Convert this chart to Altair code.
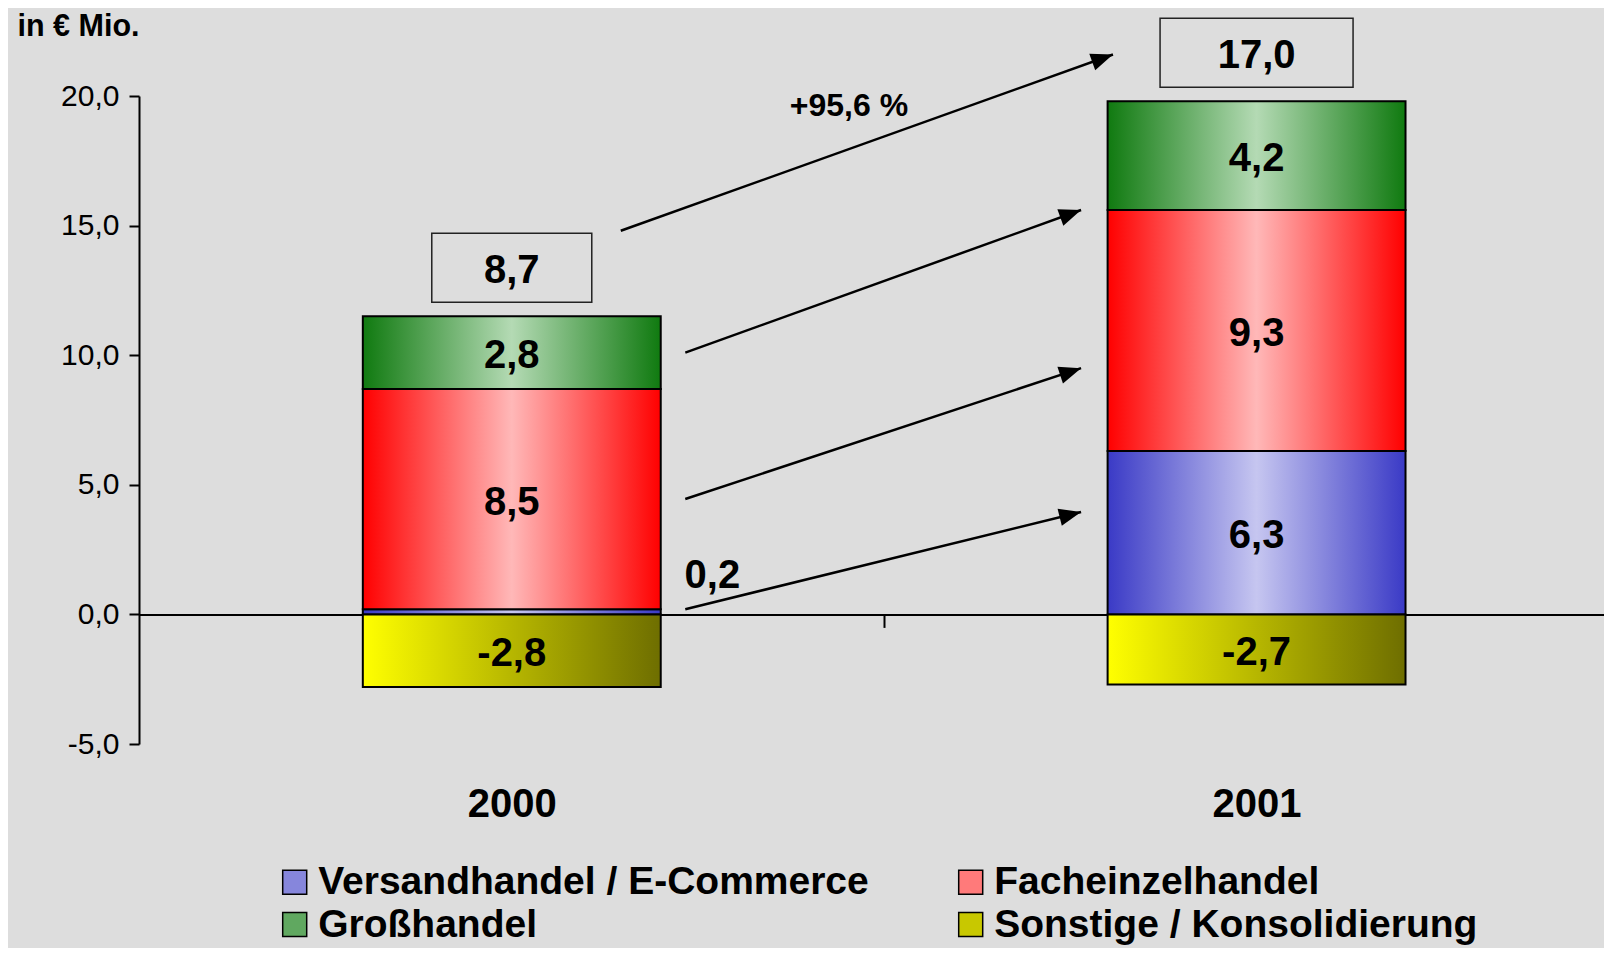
import math
import altair as alt
import pandas as pd

# ---------------- data ----------------
years = ["2000", "2001"]
series = ["Versandhandel / E-Commerce", "Facheinzelhandel", "Großhandel", "Sonstige / Konsolidierung"]
values_2000 = [0.2, 8.5, 2.8, -2.8]
values_2001 = [6.3, 9.3, 4.2, -2.7]
totals = [8.7, 17.0]
growth_label = ["+95,6 %"]
y_ticks = [-5, 0, 5, 10, 15, 20]

# arrow anchors in € Mio. (segment arrows, 2000 -> 2001)
arrow_series = ["Versandhandel / E-Commerce", "Facheinzelhandel", "Großhandel"]
arrow_from = [0.2, 4.45, 10.1]
arrow_to = [3.95, 9.5, 15.6]
# arrow for the totals
total_arrow_from = [14.8]
total_arrow_to = [21.6]

# ---------------- layout / style ----------------
W, H = 1465, 648
PAD = {"left": 131, "top": 88, "right": 0, "bottom": 204}
Y_DOMAIN = [-5, 20]
P_INNER, P_OUTER, ALIGN = 0.6, 0.2835, 0.53
STEP = W / (len(years) - P_INNER + 2 * P_OUTER)
PPU = H / (Y_DOMAIN[1] - Y_DOMAIN[0])
FONT = "Liberation Sans"

SEG_START_OFF, SEG_END_OFF = 173.5, -175.5
TOT_START_OFF, TOT_END_OFF = 109.0, -143.6


def fmt(v):
    return f"{v:.1f}".replace(".", ",")


rows = []
for yr, vals in zip(years, [values_2000, values_2001]):
    pos, neg = 0.0, 0.0
    for s, v in zip(series, vals):
        if v >= 0:
            y0, y1 = pos, pos + v
            pos += v
        else:
            y0, y1 = neg, neg + v
            neg += v
        rows.append(dict(year=yr, series=s, value=v, y0=y0, y1=y1,
                         mid=(y0 + y1) / 2, label=fmt(v), inside=abs(v) >= 1))
df = pd.DataFrame(rows)
tops = df[df.value > 0].groupby("year")["y1"].max()
tot_df = pd.DataFrame(dict(year=years, total=totals,
                           top=[tops[y] for y in years],
                           label=[fmt(t) for t in totals]))


def angle_of(v_from, v_to, start_off, end_off):
    dx = STEP + end_off - start_off
    dy = (v_to - v_from) * PPU
    return (360 - math.degrees(math.atan2(dy, dx))) % 360


arr_df = pd.DataFrame(dict(series=arrow_series, x_from=years[0], x_to=years[1],
                           v_from=arrow_from, v_to=arrow_to))
arr_df["angle"] = [angle_of(a, b, SEG_START_OFF, SEG_END_OFF) for a, b in zip(arrow_from, arrow_to)]
tot_arr_df = pd.DataFrame(dict(x_from=[years[0]], x_to=[years[1]],
                               v_from=total_arrow_from, v_to=total_arrow_to,
                               label=growth_label))
tot_arr_df["angle"] = [angle_of(a, b, TOT_START_OFF, TOT_END_OFF)
                       for a, b in zip(total_arrow_from, total_arrow_to)]

# ---------------- scales / axes ----------------
xscale = alt.Scale(domain=years, paddingInner=P_INNER, paddingOuter=P_OUTER, align=ALIGN)
yscale = alt.Scale(domain=Y_DOMAIN, nice=False, zero=False)

xaxis = alt.Axis(title=None, labelAngle=0, labelFontSize=40, labelFontWeight="bold",
                 labelColor="black", offset=-(0 - Y_DOMAIN[0]) * PPU,
                 domainColor="black", domainWidth=2, tickColor="black", tickWidth=2,
                 tickSize=13, tickOffset=STEP / 2, labelOffset=-STEP / 2,
                 labelPadding=157, grid=False)
yaxis = alt.Axis(values=y_ticks,
                 labelExpr="replace(replace(format(datum.value, '.1f'), '.', ','), '\u2212', '-')",
                 labelFontSize=30, labelColor="black", labelPadding=10, tickSize=10,
                 tickWidth=2, tickColor="black", domainColor="black", domainWidth=2,
                 grid=False, title="in € Mio.", titleAngle=0, titleAlign="left",
                 titleBaseline="alphabetic", titleX=-122, titleY=-60.5, titleFontSize=30.5,
                 titleFontWeight="bold", titleColor="black")


def X(field):
    return alt.X(f"{field}:N", scale=xscale, axis=xaxis)


def Y(field):
    return alt.Y(f"{field}:Q", scale=yscale, axis=yaxis)


def hgrad(edge, center):
    return alt.Gradient(gradient="linear", x1=0, x2=1, y1=0, y2=0,
                        stops=[alt.GradientStop(color=edge, offset=0),
                               alt.GradientStop(color=center, offset=0.5),
                               alt.GradientStop(color=edge, offset=1)])


grads = [
    hgrad("#3a3ac6", "#c6c6f0"),
    hgrad("#ff0000", "#ffb8b8"),
    hgrad("#107a10", "#b4dab4"),
    alt.Gradient(gradient="linear", x1=0, x2=1, y1=0, y2=0,
                 stops=[alt.GradientStop(color="#ffff00", offset=0),
                        alt.GradientStop(color="#6e6e00", offset=1)]),
]
legend_colors = ["#8686dc", "#ff7a7a", "#60a860", "#c8c800"]
# legend fills column by column: list entries so that rows read
# "Versandhandel / E-Commerce | Facheinzelhandel" and "Großhandel | Sonstige / Konsolidierung"
legend_order = [0, 2, 1, 3]
legend_domain = [series[i] for i in legend_order]
legend_range = [legend_colors[i] for i in legend_order]

base = alt.Chart(df)

# solid bars underneath: they carry the legend
legend_bars = base.mark_bar().encode(
    x=X("year"), y=Y("y0"), y2="y1:Q",
    color=alt.Color("series:N", sort=legend_domain,
                    scale=alt.Scale(domain=legend_domain, range=legend_range),
                    legend=alt.Legend(title=None, orient="none", legendX=136.2, legendY=766.4,
                                      columns=2, symbolType="square", symbolSize=576,
                                      symbolStrokeColor="black", symbolStrokeWidth=1.5,
                                      labelFontSize=39, labelFontWeight="bold",
                                      labelColor="black", labelLimit=2000, labelOffset=4,
                                      rowPadding=2.7, columnPadding=82, padding=0)),
)

bar_layers = [
    base.transform_filter(alt.datum.series == s)
    .mark_bar(fill=g, stroke="black", strokeWidth=2)
    .encode(x=X("year"), y=Y("y0"), y2="y1:Q")
    for s, g in zip(series, grads)
]

inside_labels = base.transform_filter(alt.datum.inside).mark_text(
    fontSize=40, fontWeight="bold", color="black", baseline="middle", dy=3.5
).encode(x=X("year"), y=Y("mid"), text="label:N")

small_labels = base.transform_filter("!datum.inside").mark_text(
    fontSize=40, fontWeight="bold", color="black", baseline="middle", align="left",
    dx=172.8, dy=-33
).encode(x=X("year"), y=Y("y1"), text="label:N")

tot_base = alt.Chart(tot_df)
box_widths = {"2000": 160, "2001": 193}
boxes = [
    tot_base.transform_filter(alt.datum.year == yr).mark_bar(
        width=w, fill="transparent", stroke="#222222", strokeWidth=1.5,
        yOffset=-14, y2Offset=-83
    ).encode(x=X("year"), y=Y("top"), y2="top:Q")
    for yr, w in box_widths.items()
]
tot_text = tot_base.mark_text(fontSize=40, fontWeight="bold", color="black",
                              baseline="middle", dy=-45).encode(
    x=X("year"), y=Y("top"), text="label:N")

ARROW_SHAPE = "M0,0L-2,-0.8L-2,0.8Z"
arr_base = alt.Chart(arr_df)
seg_lines = arr_base.mark_rule(color="black", strokeWidth=2.5,
                               xOffset=SEG_START_OFF, x2Offset=SEG_END_OFF).encode(
    x=X("x_from"), x2="x_to:N", y=Y("v_from"), y2="v_to:Q")
seg_heads = arr_base.mark_point(shape=ARROW_SHAPE, filled=True, color="black", opacity=1,
                                size=484, strokeWidth=0, xOffset=SEG_END_OFF).encode(
    x=X("x_to"), y=Y("v_to"), angle=alt.Angle("angle:Q", scale=None))

tarr_base = alt.Chart(tot_arr_df)
tot_line = tarr_base.mark_rule(color="black", strokeWidth=2.5,
                               xOffset=TOT_START_OFF, x2Offset=TOT_END_OFF).encode(
    x=X("x_from"), x2="x_to:N", y=Y("v_from"), y2="v_to:Q")
tot_head = tarr_base.mark_point(shape=ARROW_SHAPE, filled=True, color="black", opacity=1,
                                size=484, strokeWidth=0, xOffset=TOT_END_OFF).encode(
    x=X("x_to"), y=Y("v_to"), angle=alt.Angle("angle:Q", scale=None))
growth = tarr_base.mark_text(fontSize=32, fontWeight="bold", color="black", align="left",
                             baseline="middle", dx=278, dy=-125).encode(
    x=X("x_from"), y=Y("v_from"), text="label:N")

chart = alt.layer(
    legend_bars, *bar_layers, inside_labels, small_labels, *boxes, tot_text,
    seg_lines, seg_heads, tot_line, tot_head, growth
).properties(
    width=W, height=H, autosize=alt.AutoSizeParams(type="none"), padding=PAD
).configure(
    background="#dddddd", font=FONT
).configure_view(stroke=None)

chart.save("out.html", embed_options={"renderer": "svg", "actions": False})
